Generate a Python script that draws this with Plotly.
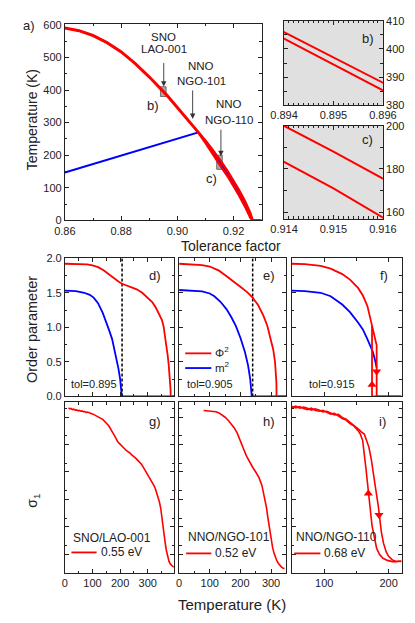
import plotly.graph_objects as go

W, H = 415, 623
def fx(px): return px / W
def fy(py): return 1 - py / H

FONT = "Liberation Sans, Arial, sans-serif"
RED = "#ff0000"
BLUE = "#0000ff"
INK = "#222222"

# ---------------- data: panel a (phase diagram) ----------------
tol_a = [0.860, 0.865, 0.870, 0.875, 0.880, 0.885, 0.890, 0.894, 0.895, 0.896,
         0.900, 0.905, 0.9075, 0.910, 0.912, 0.914, 0.915, 0.916, 0.918, 0.920,
         0.922, 0.924, 0.926, 0.9268, 0.930]
T_upper = [591, 583, 568, 546, 518, 482, 441, 406, 397, 388,
           348, 298, 272, 245, 223, 200, 188, 175.5, 150, 122,
           92, 60, 22, 0, 0]
T_lower = [589, 581, 566, 544, 516, 480, 439, 403.7, 394.5, 385.3,
           345, 295, 269, 238, 211, 183.3, 171, 159, 134, 106,
           76, 44, 8, 0, 0]
tol_blue = [0.860, 0.9075, 0.910, 0.912, 0.914, 0.916, 0.918, 0.920, 0.922, 0.924, 0.926, 0.9268]
T_blue = [147, 270, 241.5, 217, 191.5, 167, 142, 114, 84, 52, 15, 0]

# inset ranges (b, c)
b_tol = [0.894, 0.896]
b_T = [380, 410]
c_tol = [0.914, 0.916]
c_T = [156.8, 200]

# ---------------- data: order parameters d, e, f ----------------
d_T_red = [0, 50, 80, 100, 120, 140, 160, 180, 195, 207, 220, 240, 260, 280, 300, 317,
           330, 340, 351, 357, 362, 367, 372, 376, 379, 381, 382.5, 383, 395]
d_red = [1.92, 1.918, 1.91, 1.895, 1.87, 1.825, 1.76, 1.70, 1.66, 1.63, 1.61, 1.585, 1.55,
         1.50, 1.43, 1.36, 1.28, 1.20, 1.11, 1.02, 0.90, 0.76, 0.60, 0.45, 0.33, 0.22, 0.10, 0.0, 0.0]
d_T_blue = [0, 40, 70, 90, 104, 120, 137, 150, 160, 171, 182, 194, 200, 205, 206, 395]
d_blue = [1.53, 1.525, 1.50, 1.47, 1.43, 1.35, 1.21, 1.08, 0.96, 0.83, 0.64, 0.40, 0.25, 0.05, 0.0, 0.0]
d_dash_T = [207, 207]

e_T_red = [0, 40, 75, 100, 130, 155, 180, 205, 222, 240, 258, 275, 288, 300, 307, 313,
           316, 317.5, 318, 350]
e_red = [1.92, 1.915, 1.90, 1.88, 1.82, 1.74, 1.66, 1.57, 1.51, 1.43, 1.32, 1.17, 1.02,
         0.83, 0.68, 0.50, 0.35, 0.20, 0.0, 0.0]
e_T_blue = [0, 75, 100, 115, 135, 155, 170, 185, 200, 215, 225, 232, 236, 237, 350]
e_blue = [1.54, 1.52, 1.49, 1.45, 1.37, 1.26, 1.15, 1.02, 0.85, 0.64, 0.45, 0.25, 0.05, 0.0, 0.0]
e_dash_T = [240, 240]

f_T_red = [50, 70, 94.5, 110, 128, 140, 152.5, 160, 167, 174.2, 178, 181.4, 181.4, 220]
f_red = [1.92, 1.915, 1.89, 1.85, 1.77, 1.69, 1.57, 1.46, 1.31, 1.02, 0.88, 0.74, 0.0, 0.0]
f_T_red_cool = [220, 174.2, 174.2]
f_red_cool = [0.0, 0.0, 1.02]
f_T_blue = [50, 70, 94.5, 110, 128, 140, 152.5, 160, 167, 172, 175.7, 179, 181.4]
f_blue = [1.53, 1.525, 1.50, 1.45, 1.33, 1.22, 1.07, 0.97, 0.83, 0.72, 0.64, 0.52, 0.42]
f_arrow_up = ([174.2], [0.17])
f_arrow_down = ([181.4], [0.36])

# ---------------- data: optical conductivity g, h, i ----------------
g_T = [13, 18, 22, 27, 32, 37, 42, 47, 52, 57, 62, 67, 72, 77, 82, 87, 92, 97, 102, 107,
       112, 117, 122, 127, 132, 137, 142, 147, 152, 157, 162, 167, 172, 177, 182, 187, 192,
       197, 202, 207, 212, 217, 222, 227, 232, 237, 242, 247, 252, 257, 262, 267, 272, 277,
       282, 287, 292, 297, 302, 307, 312, 317, 322, 327, 332, 337, 342, 347, 352, 357, 362,
       367, 372, 377, 382, 387, 392, 394]
g_s = [0.968, 0.962, 0.965, 0.958, 0.960, 0.954, 0.956, 0.951, 0.953, 0.948, 0.950, 0.945,
       0.946, 0.941, 0.943, 0.938, 0.937, 0.933, 0.931, 0.927, 0.924, 0.921, 0.915, 0.911,
       0.905, 0.900, 0.892, 0.885, 0.875, 0.866, 0.854, 0.843, 0.826, 0.812, 0.796, 0.783,
       0.768, 0.760, 0.750, 0.741, 0.733, 0.727, 0.719, 0.714, 0.706, 0.701, 0.692, 0.687,
       0.678, 0.672, 0.663, 0.656, 0.646, 0.637, 0.625, 0.612, 0.599, 0.585, 0.572, 0.558,
       0.545, 0.530, 0.514, 0.496, 0.474, 0.450, 0.418, 0.378, 0.325, 0.255, 0.190, 0.135,
       0.095, 0.068, 0.052, 0.043, 0.036, 0.034]

h_T = [80, 90, 100, 110, 120, 130, 140, 150, 160, 170, 180, 190, 200, 210, 220, 230, 240,
       250, 260, 270, 280, 285, 290, 295, 300, 305, 310, 315, 320, 325, 330, 335, 340, 344]
h_s = [0.952, 0.951, 0.950, 0.948, 0.945, 0.938, 0.928, 0.913, 0.895, 0.874, 0.850, 0.818,
       0.778, 0.728, 0.685, 0.650, 0.620, 0.592, 0.562, 0.515, 0.440, 0.385, 0.320, 0.255,
       0.195, 0.150, 0.115, 0.088, 0.068, 0.054, 0.042, 0.033, 0.028, 0.026]

i_T_cool = [50, 56, 62, 68, 74, 80, 86, 92, 98, 104, 110, 116, 122, 128, 134, 140, 146, 150,
            153, 156, 159.7, 164.5, 169.4, 174.2, 181.4, 186, 191.2, 198, 205.7, 212, 220]
i_s_cool = [0.976, 0.968, 0.975, 0.964, 0.958, 0.966, 0.954, 0.948, 0.953, 0.940, 0.931,
            0.936, 0.918, 0.905, 0.896, 0.876, 0.862, 0.848, 0.832, 0.815, 0.776, 0.622,
            0.431, 0.278, 0.144, 0.108, 0.086, 0.074, 0.067, 0.066, 0.070]
i_T_heat = [50, 56, 62, 68, 74, 80, 86, 92, 98, 104, 110, 116, 122, 128, 134, 140, 146, 150,
            154, 158, 162.2, 165.5, 169.4, 173, 176.7, 180, 183.9, 188.7, 192, 196, 200,
            205.7, 210, 215.2, 220]
i_s_heat = [0.970, 0.978, 0.966, 0.972, 0.966, 0.955, 0.962, 0.956, 0.944, 0.948, 0.938,
            0.926, 0.930, 0.912, 0.902, 0.884, 0.868, 0.852, 0.840, 0.826, 0.814, 0.780,
            0.737, 0.668, 0.584, 0.490, 0.393, 0.240, 0.175, 0.125, 0.098, 0.077, 0.070,
            0.067, 0.068]
i_arrow_up = ([168.5], [0.466])
i_arrow_down = ([185.0], [0.34])

fig = go.Figure()

def line(x, y, color, width, xa, ya, dash=None):
    fig.add_trace(go.Scatter(x=x, y=y, mode="lines", xaxis=xa, yaxis=ya,
                             line=dict(color=color, width=width, dash=dash),
                             showlegend=False, hoverinfo="skip"))

def marker(pt, symbol, xa, ya):
    fig.add_trace(go.Scatter(x=pt[0], y=pt[1], mode="markers", xaxis=xa, yaxis=ya,
                             marker=dict(symbol=symbol, size=8, color=RED),
                             showlegend=False, hoverinfo="skip"))

# panel a
line(tol_blue, T_blue, BLUE, 2, "x", "y")
line(tol_a, T_lower, RED, 2.4, "x", "y")
line(tol_a, T_upper, RED, 2.4, "x", "y")
# panels b, c
for xa, ya in (("x2", "y2"), ("x3", "y3")):
    line(tol_a, T_upper, RED, 2, xa, ya)
    line(tol_a, T_lower, RED, 2, xa, ya)
# panel d
line(d_dash_T, [0, 2], "black", 1.5, "x4", "y4", dash="3px,2px")
line(d_T_blue, d_blue, BLUE, 1.8, "x4", "y4")
line(d_T_red, d_red, RED, 1.8, "x4", "y4")
# panel e
line(e_dash_T, [0, 2], "black", 1.5, "x5", "y5", dash="3px,2px")
line(e_T_blue, e_blue, BLUE, 1.8, "x5", "y5")
line(e_T_red, e_red, RED, 1.8, "x5", "y5")
# panel f
line(f_T_blue, f_blue, BLUE, 1.8, "x6", "y6")
line(f_T_red, f_red, RED, 1.8, "x6", "y6")
line(f_T_red_cool, f_red_cool, RED, 1.8, "x6", "y6")
marker(f_arrow_up, "triangle-up", "x6", "y6")
marker(f_arrow_down, "triangle-down", "x6", "y6")
# panels g, h, i
line(g_T, g_s, RED, 1.6, "x7", "y7")
line(h_T, h_s, RED, 1.6, "x8", "y8")
line(i_T_cool, i_s_cool, RED, 1.6, "x9", "y9")
line(i_T_heat, i_s_heat, RED, 1.6, "x9", "y9")
marker(i_arrow_up, "triangle-up", "x9", "y9")
marker(i_arrow_down, "triangle-down", "x9", "y9")

def axis(dom, rng, dtick, minor_dtick, **kw):
    d = dict(domain=dom, range=rng, showline=True, linecolor=INK, linewidth=1,
             mirror="ticks", ticks="inside", ticklen=4, tickwidth=1, tickcolor=INK,
             showgrid=False, zeroline=False, dtick=dtick,
             tickfont=dict(size=11, color=INK, family=FONT),
             minor=dict(ticks="inside", ticklen=2.5, tickcolor=INK, dtick=minor_dtick,
                        showgrid=False))
    d.update(kw)
    return d

xd = lambda a, b: [fx(a), fx(b)]
yd = lambda top, bot: [fy(bot), fy(top)]

layout = dict(
    width=W, height=H, margin=dict(l=0, r=0, t=0, b=0),
    paper_bgcolor="white", plot_bgcolor="white",
    font=dict(family=FONT, color=INK, size=11),
    showlegend=False,
    xaxis=axis(xd(46, 257), [0.86, 0.93], 0.02, 0.01, anchor="y", tickformat=".2f", tick0=0.86),
    yaxis=axis(yd(10, 210.5), [0, 603], 100, 50, anchor="x"),
    xaxis2=axis(xd(281, 387), b_tol, 0.001, 0.0001, anchor="y2", tickformat=".3f", tick0=0.894),
    yaxis2=axis(yd(7, 93), b_T, 10, 5, anchor="x2", side="right"),
    xaxis3=axis(xd(281, 387), c_tol, 0.001, 0.0001, anchor="y3", tickformat=".3f", tick0=0.914),
    yaxis3=axis(yd(114, 209), c_T, 20, 10, anchor="x3", side="right", tick0=160),
    xaxis4=axis(xd(46, 163), [0, 395], 100, 50, anchor="y4", showticklabels=False),
    yaxis4=axis(yd(249, 390), [0, 2], 0.5, 0.25, anchor="x4", tickformat=".1f"),
    xaxis5=axis(xd(168.5, 283.5), [0, 350], 100, 50, anchor="y5", showticklabels=False),
    yaxis5=axis(yd(249, 390), [0, 2], 0.5, 0.25, anchor="x5", showticklabels=False),
    xaxis6=axis(xd(289.5, 407), [50, 220], 100, 50, anchor="y6", showticklabels=False, tick0=0),
    yaxis6=axis(yd(249, 390), [0, 2], 0.5, 0.25, anchor="x6", showticklabels=False),
    xaxis7=axis(xd(46, 163), [0, 395], 100, 50, anchor="y7"),
    yaxis7=axis(yd(396, 570), [0, 1], 0.161, 0.161, anchor="x7", showticklabels=False, tick0=0.109),
    xaxis8=axis(xd(168.5, 283.5), [0, 350], 100, 50, anchor="y8"),
    yaxis8=axis(yd(396, 570), [0, 1], 0.161, 0.161, anchor="x8", showticklabels=False, tick0=0.109),
    xaxis9=axis(xd(289.5, 407), [50, 220], 100, 50, anchor="y9", tick0=0),
    yaxis9=axis(yd(396, 570), [0, 1], 0.161, 0.161, anchor="x9", showticklabels=False, tick0=0.109),
)
fig.update_layout(**layout)

shapes = []
# gray backgrounds of insets b, c
for n in ("2", "3"):
    shapes.append(dict(type="rect", xref=f"x{n} domain", yref=f"y{n} domain", x0=0, x1=1, y0=0, y1=1,
                       fillcolor="#e0e0e0", line=dict(width=0), layer="below"))
# boxes in panel a marking the insets
for xr, yr in ((b_tol, b_T), (c_tol, c_T)):
    shapes.append(dict(type="rect", xref="x", yref="y", x0=xr[0], x1=xr[1], y0=yr[0], y1=yr[1],
                       fillcolor="#a9a9a9", line=dict(color="#555555", width=0.8), layer="below"))
# legend line samples
def seg(x0, x1, y, color):
    shapes.append(dict(type="line", xref="paper", yref="paper", x0=fx(x0), x1=fx(x1),
                       y0=fy(y), y1=fy(y), line=dict(color=color, width=1.8)))
seg(175, 203, 346, RED)
seg(175, 203, 361, BLUE)
seg(53, 80, 549, RED)
seg(176, 203, 550, RED)
seg(292, 320, 550, RED)
fig.update_layout(shapes=shapes)

ann = []
def text(x, y, s, size=11, xanchor="center", angle=0):
    ann.append(dict(x=fx(x), y=fy(y), xref="paper", yref="paper", text=s, showarrow=False,
                    xanchor=xanchor, yanchor="middle", textangle=angle,
                    font=dict(size=size, color=INK, family=FONT)))
def arrow(x, ytail, yhead):
    ann.append(dict(x=fx(x), y=fy(yhead), xref="paper", yref="paper", text="",
                    showarrow=True, ax=0, ay=ytail - yhead, arrowhead=2, arrowsize=1.2,
                    arrowwidth=0.9, arrowcolor="#333333", standoff=0))

# panel labels
text(8, 12, "a)", 13)
text(371, 25, "b)", 13)
text(371, 128, "c)", 13)
text(140, 93, "b)", 13)
text(203, 168, "c)", 13)
text(143, 267, "d)", 13)
text(265, 267, "e)", 13)
text(388, 267, "f)", 13)
text(143, 416, "g)", 13)
text(265, 416, "h)", 13)
text(387, 416, "i)", 13)
# annotations panel a
text(152, 23, "SNO", 11.5)
text(152, 36, "LAO-001", 11.5)
text(192, 53, "NNO", 11.5)
text(192, 68, "NGO-101", 11.5)
text(222, 92, "NNO", 11.5)
text(222, 108, "NGO-110", 11.5)
arrow(152, 49, 74)
arrow(183, 77, 107)
arrow(213.3, 117, 145)
# axis titles
text(11, 108, "Temperature (K)", 14, angle=-90)
text(224, 237, "Tolerance factor", 14)
text(10, 322, "Order parameter", 14.5, angle=-90)
text(12, 496, "σ<sub>1</sub>", 14, angle=-90)
text(225.5, 602, "Temperature (K)", 15)
# d-f texts
text(50, 377, "tol=0.895", 11, xanchor="left")
text(175, 377, "tol=0.905", 11, xanchor="left")
text(306, 377, "tol=0.915", 11, xanchor="left")
text(205, 345, "Φ<sup>2</sup>", 11.5, xanchor="left")
text(205, 360, "m<sup>2</sup>", 11.5, xanchor="left")
# g-i legends
text(53, 534, "SNO/LAO-001", 12, xanchor="left")
text(83, 549, "0.55 eV", 12, xanchor="left")
text(176, 533, "NNO/NGO-101", 12, xanchor="left")
text(205, 550, "0.52 eV", 12, xanchor="left")
text(292, 533, "NNO/NGO-110", 12, xanchor="left")
text(322, 550, "0.68 eV", 12, xanchor="left")
fig.update_layout(annotations=ann)

fig.write_html("out.html")
